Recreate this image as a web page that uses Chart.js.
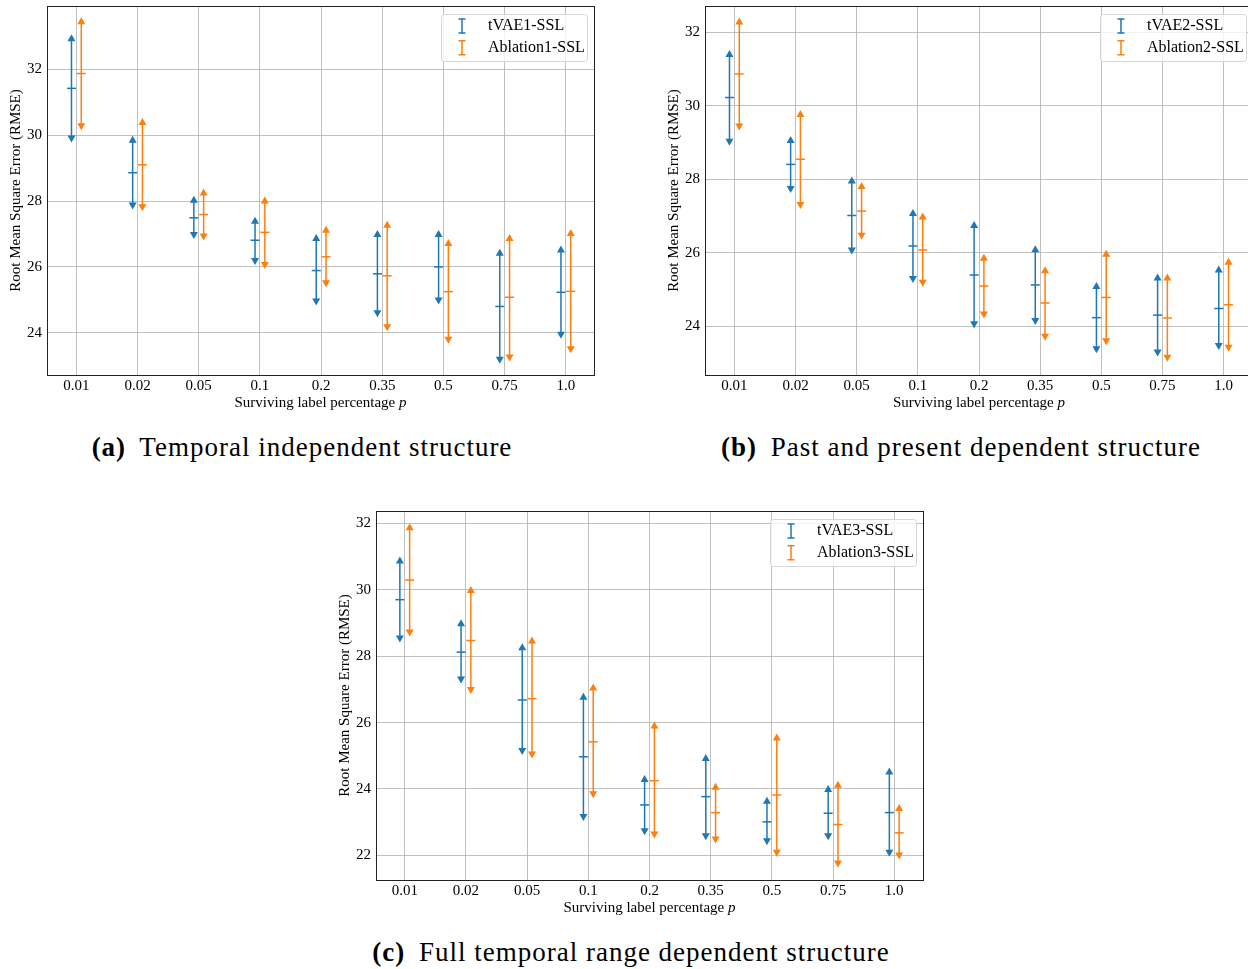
<!DOCTYPE html>
<html>
<head>
<meta charset="utf-8">
<script src="https://cdn.jsdelivr.net/npm/chart.js@4.4.0/dist/chart.umd.min.js"></script>
<style>
body { margin: 0; background: #fff; width: 1248px; height: 969px; position: relative; overflow: hidden; }
canvas { position: absolute; }
.cap { position: absolute; font-family: "Liberation Serif", serif; font-size: 27px; letter-spacing: 1px; color: #000; text-align: center; white-space: nowrap; line-height: 30px; }
.cap b { margin-right: 6px; }
</style>
</head>
<body>
<canvas id="chartA" width="600" height="420" style="left:0;top:0"></canvas>
<canvas id="chartB" width="620" height="420" style="left:640px;top:0"></canvas>
<canvas id="chartC" width="620" height="420" style="left:310px;top:500px"></canvas>
<div class="cap" style="left:2px;top:432px;width:600px"><b>(a)</b> Temporal independent structure</div>
<div class="cap" style="left:661px;top:432px;width:600px"><b>(b)</b> Past and present dependent structure</div>
<div class="cap" style="left:331px;top:937px;width:600px"><b>(c)</b> Full temporal range dependent structure</div>
<script>
// x categories (surviving label percentage p)
const pLabels = ['0.01', '0.02', '0.05', '0.1', '0.2', '0.35', '0.5', '0.75', '1.0'];

// y tick labels
const yTicksA = [24, 26, 28, 30, 32];
const yTicksB = [24, 26, 28, 30, 32];
const yTicksC = [22, 24, 26, 28, 30, 32];

// (a) temporal independent structure
const tvae1High = [33.06, 29.98, 28.16, 27.52, 27.00, 27.12, 27.12, 26.55, 26.65];
const tvae1Mean = [31.42, 28.86, 27.49, 26.81, 25.89, 25.79, 26.00, 24.80, 25.23];
const tvae1Low  = [29.78, 27.74, 26.85, 26.06, 24.83, 24.47, 24.86, 23.06, 23.82];
const abl1High  = [33.58, 30.52, 28.38, 28.14, 27.25, 27.40, 26.85, 27.00, 27.15];
const abl1Mean  = [31.87, 29.10, 27.59, 27.05, 26.31, 25.73, 25.25, 25.08, 25.26];
const abl1Low   = [30.15, 27.69, 26.80, 25.94, 25.38, 24.05, 23.67, 23.13, 23.38];

// (b) past and present dependent structure
const tvae2High = [31.51, 29.17, 28.07, 27.19, 26.86, 26.20, 25.20, 25.43, 25.65];
const tvae2Mean = [30.22, 28.40, 27.01, 26.18, 25.39, 25.12, 24.23, 24.30, 24.48];
const tvae2Low  = [28.91, 27.62, 25.95, 25.17, 23.94, 24.03, 23.26, 23.17, 23.35];
const abl2High  = [32.40, 29.88, 27.92, 27.09, 25.97, 25.63, 26.08, 25.43, 25.86];
const abl2Mean  = [30.86, 28.54, 27.13, 26.07, 25.09, 24.63, 24.78, 24.22, 24.58];
const abl2Low   = [29.32, 27.19, 26.35, 25.07, 24.21, 23.60, 23.48, 23.03, 23.30];

// (c) full temporal range dependent structure
const tvae3High = [31.00, 29.11, 28.39, 26.90, 24.42, 25.05, 23.77, 24.12, 24.65];
const tvae3Mean = [29.70, 28.12, 26.68, 24.97, 23.52, 23.77, 23.01, 23.27, 23.29];
const tvae3Low  = [28.41, 27.18, 25.02, 23.04, 22.61, 22.46, 22.31, 22.46, 21.96];
const abl3High  = [32.00, 30.11, 28.59, 27.18, 26.03, 24.19, 25.67, 24.25, 23.55];
const abl3Mean  = [30.29, 28.47, 26.72, 25.42, 24.25, 23.29, 23.82, 22.93, 22.68];
const abl3Low   = [28.59, 26.86, 24.92, 23.72, 22.51, 22.36, 21.96, 21.64, 21.88];

const BLUE = '#1f77b4';
const ORANGE = '#ff7f0e';
const OFF = 0.08;
const FONT = 'Liberation Serif';

// draws arrows error bars, frame, axis titles and legend
const errArrows = {
    id: 'errArrows',
    beforeDatasetsDraw(chart) {
        const ctx = chart.ctx;
        const xs = chart.scales.x, ys = chart.scales.y;
        chart.data.datasets.forEach((ds, di) => {
            ctx.save();
            ctx.strokeStyle = ds.borderColor;
            ctx.fillStyle = ds.borderColor;
            ctx.lineWidth = 1.5;
            ds.data.forEach((pt, i) => {
                const px = xs.getPixelForValue(pt.x);
                const yHi = ys.getPixelForValue(ds.highVals[i]);
                const yLo = ys.getPixelForValue(ds.lowVals[i]);
                ctx.beginPath();
                ctx.moveTo(px, yHi + 5);
                ctx.lineTo(px, yLo - 5);
                ctx.stroke();
                ctx.beginPath();
                ctx.moveTo(px, yHi);
                ctx.lineTo(px - 4, yHi + 7);
                ctx.lineTo(px + 4, yHi + 7);
                ctx.closePath();
                ctx.fill();
                ctx.beginPath();
                ctx.moveTo(px, yLo);
                ctx.lineTo(px - 4, yLo - 7);
                ctx.lineTo(px + 4, yLo - 7);
                ctx.closePath();
                ctx.fill();
            });
            ctx.restore();
        });
    },
    afterDraw(chart) {
        const ctx = chart.ctx;
        const a = chart.chartArea;
        ctx.save();
        // frame
        ctx.strokeStyle = '#222';
        ctx.lineWidth = 1;
        ctx.strokeRect(Math.round(a.left) + 0.5, Math.round(a.top) + 0.5, Math.round(a.right - a.left), Math.round(a.bottom - a.top));

        // y title
        ctx.fillStyle = '#000';
        ctx.font = '15px "' + FONT + '"';
        ctx.textAlign = 'center';
        ctx.textBaseline = 'middle';
        ctx.save();
        ctx.translate(a.left - 31, (a.top + a.bottom) / 2);
        ctx.rotate(-Math.PI / 2);
        ctx.fillText('Root Mean Square Error (RMSE)', 0, 0);
        ctx.restore();

        // x title with italic p
        const t1 = 'Surviving label percentage ';
        ctx.font = '15px "' + FONT + '"';
        const w1 = ctx.measureText(t1).width;
        ctx.font = 'italic 15px "' + FONT + '"';
        const w2 = ctx.measureText('p').width;
        let sx = (a.left + a.right) / 2 - (w1 + w2) / 2;
        ctx.textAlign = 'left';
        ctx.font = '15px "' + FONT + '"';
        ctx.fillText(t1, sx, a.bottom + 28);
        ctx.font = 'italic 15px "' + FONT + '"';
        ctx.fillText('p', sx + w1, a.bottom + 28);

        // legend
        const lw = 146, lh = 47;
        const lx = a.right - 7 - lw, ly = a.top + 8;
        ctx.beginPath();
        ctx.roundRect(lx + 0.5, ly + 0.5, lw, lh, 3);
        ctx.fillStyle = 'rgba(255,255,255,0.8)';
        ctx.fill();
        ctx.strokeStyle = '#d6d6d6';
        ctx.lineWidth = 1;
        ctx.stroke();
        chart.data.datasets.forEach((ds, di) => {
            const cy = ly + 12 + di * 21.7;
            const hx = lx + 21;
            ctx.strokeStyle = ds.borderColor;
            ctx.lineWidth = 1.5;
            ctx.beginPath();
            ctx.moveTo(hx, cy - 7); ctx.lineTo(hx, cy + 7);
            ctx.moveTo(hx - 3.5, cy - 7); ctx.lineTo(hx + 3.5, cy - 7);
            ctx.moveTo(hx - 3.5, cy + 7); ctx.lineTo(hx + 3.5, cy + 7);
            ctx.stroke();
            ctx.fillStyle = '#000';
            ctx.font = '16px "' + FONT + '"';
            ctx.textAlign = 'left';
            ctx.textBaseline = 'middle';
            ctx.fillText(ds.label, lx + 47, cy);
        });
        ctx.restore();
    }
};

function buildChart(id, cfg) {
    const ctx = document.getElementById(id).getContext('2d');
    const mk = (label, color, mean, low, high, off) => ({
        label: label,
        data: mean.map((v, i) => ({ x: i + off, y: v })),
        lowVals: low,
        highVals: high,
        borderColor: color,
        backgroundColor: color,
        pointStyle: 'line',
        pointRadius: 4.5,
        pointHoverRadius: 4.5,
        pointBorderWidth: 1.5,
        showLine: false
    });
    return new Chart(ctx, {
        type: 'scatter',
        data: {
            datasets: [
                mk(cfg.names[0], BLUE, cfg.blue[0], cfg.blue[1], cfg.blue[2], -OFF),
                mk(cfg.names[1], ORANGE, cfg.orange[0], cfg.orange[1], cfg.orange[2], OFF)
            ]
        },
        options: {
            responsive: false,
            animation: false,
            layout: { padding: { left: 0, top: cfg.padTop, right: cfg.padRight, bottom: 0 } },
            plugins: { legend: { display: false }, tooltip: { enabled: false } },
            scales: {
                x: {
                    type: 'linear',
                    min: cfg.xMin,
                    max: cfg.xMax,
                    afterBuildTicks: s => { s.ticks = pLabels.map((_, i) => ({ value: i })); },
                    afterFit: s => { s.height = cfg.xHeight; s.paddingLeft = 0; s.paddingRight = 0; },
                    ticks: {
                        callback: v => pLabels[v],
                        font: { family: FONT, size: 15 },
                        color: '#000',
                        padding: 2,
                        maxRotation: 0,
                        autoSkip: false
                    },
                    grid: { color: '#b0b0b0', lineWidth: 0.8, drawTicks: false },
                    border: { display: false }
                },
                y: {
                    type: 'linear',
                    min: cfg.yMin,
                    max: cfg.yMax,
                    afterBuildTicks: s => { s.ticks = cfg.yTicks.map(v => ({ value: v })); },
                    afterFit: s => { s.width = cfg.yWidth; s.paddingTop = 0; s.paddingBottom = 0; },
                    ticks: {
                        font: { family: FONT, size: 15 },
                        color: '#000',
                        padding: 5
                    },
                    grid: { color: '#b0b0b0', lineWidth: 0.8, drawTicks: false },
                    border: { display: false }
                }
            }
        },
        plugins: [errArrows]
    });
}

buildChart('chartA', {
    names: ['tVAE1-SSL', 'Ablation1-SSL'],
    blue: [tvae1Mean, tvae1Low, tvae1High],
    orange: [abl1Mean, abl1Low, abl1High],
    yTicks: yTicksA, yMin: 22.72, yMax: 33.92,
    xMin: -0.48, xMax: 8.46,
    yWidth: 47, xHeight: 45, padTop: 5, padRight: 6
});

buildChart('chartB', {
    names: ['tVAE2-SSL', 'Ablation2-SSL'],
    blue: [tvae2Mean, tvae2Low, tvae2High],
    orange: [abl2Mean, abl2Low, abl2High],
    yTicks: yTicksB, yMin: 22.67, yMax: 32.71,
    xMin: -0.48, xMax: 8.48,
    yWidth: 65, xHeight: 45, padTop: 5, padRight: 7
});

buildChart('chartC', {
    names: ['tVAE3-SSL', 'Ablation3-SSL'],
    blue: [tvae3Mean, tvae3Low, tvae3High],
    orange: [abl3Mean, abl3Low, abl3High],
    yTicks: yTicksC, yMin: 21.26, yMax: 32.37,
    xMin: -0.47, xMax: 8.47,
    yWidth: 66, xHeight: 40, padTop: 11, padRight: 7
});
</script>
</body>
</html>
